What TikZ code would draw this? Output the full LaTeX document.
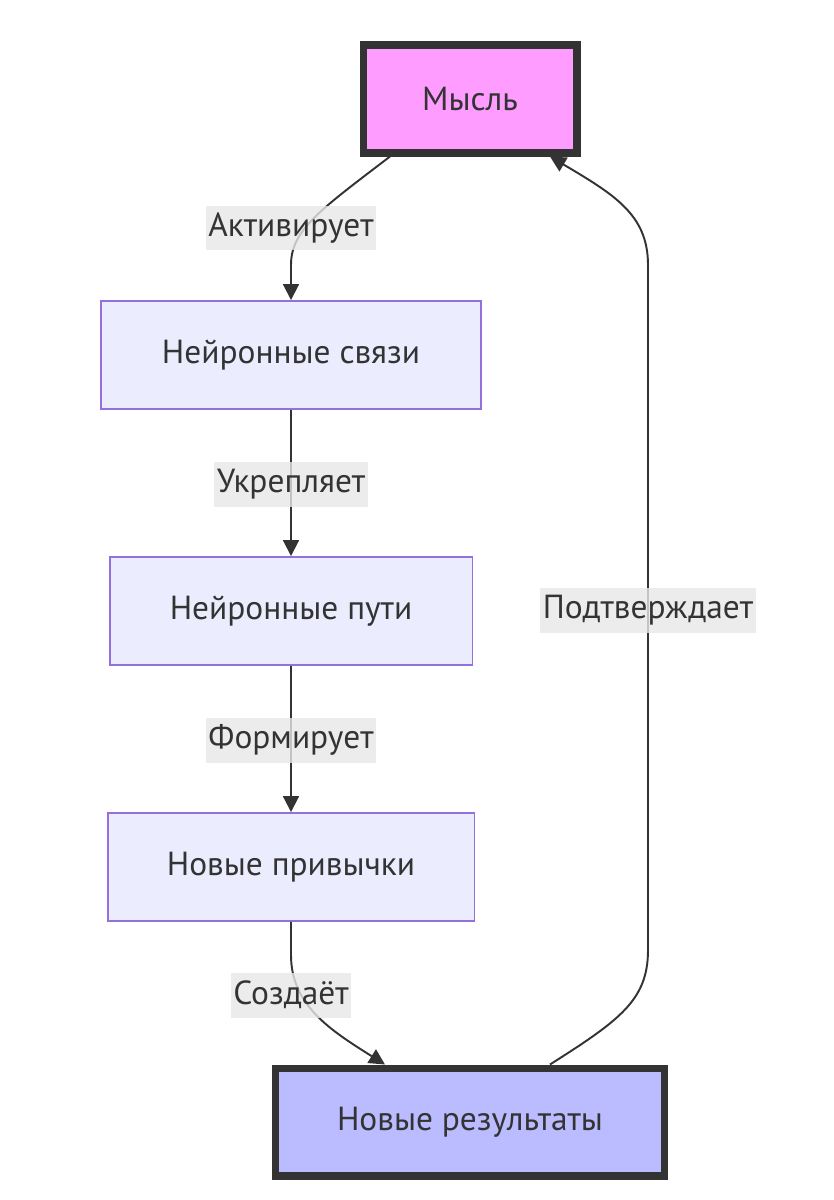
\documentclass[tikz,border=0pt]{standalone}
\usepackage{fontspec}
\setmainfont{PT Sans}
\usepackage{tikz}
\usetikzlibrary{arrows.meta}

\definecolor{nodefill}{HTML}{ECECFF}
\definecolor{nodeline}{HTML}{9370DB}
\definecolor{pinkfill}{HTML}{FF9CFF}
\definecolor{bluefill}{HTML}{BBBBFF}
\definecolor{darkline}{HTML}{333333}
\definecolor{labelfill}{HTML}{E8E8E8}

\tikzset{
  stepbox/.style={draw=nodeline, line width=1.1pt, fill=nodefill, text=darkline,
    minimum height=2.16cm, font=\fontsize{19}{22}\selectfont},
  keybox/.style={draw=darkline, line width=4pt, minimum height=2.16cm,
    text=darkline, font=\fontsize{19}{22}\selectfont},
  edgelabel/.style={fill=labelfill, fill opacity=0.8, text opacity=1, text=darkline,
    inner xsep=1.5pt, minimum height=0.9cm, font=\fontsize{19}{22}\selectfont},
  flow/.style={draw=darkline, line width=1.1pt, -{Triangle[length=9pt,width=9pt]}},
}

\begin{document}
\begin{tikzpicture}[x=0.02cm, y=-0.02cm]

\useasboundingbox[fill=white] (0,0) rectangle (833,1200);

% boxes
\node[keybox, fill=pinkfill, minimum width=4.28cm] (mysl) at (470,99) {Мысль};
\node[stepbox, minimum width=7.6cm] (svyazi) at (291,355) {Нейронные связи};
\node[stepbox, minimum width=7.26cm] (puti) at (291,611) {Нейронные пути};
\node[stepbox, minimum width=7.34cm] (privychki) at (291,867) {Новые привычки};
\node[keybox, fill=bluefill, minimum width=7.78cm] (rez) at (470,1122) {Новые результаты};

% connectors
\draw[flow] ([xshift=-1.6cm]mysl.south) .. controls (320,210) and (291,230) .. (291,265) -- (svyazi);
\draw[flow] (svyazi) -- (puti);
\draw[flow] (puti) -- (privychki);
\draw[flow] (privychki.south) -- (291,955) .. controls (291,1005) and (330,1030) .. ([xshift=-1.7cm]rez.north);
\draw[flow] ([xshift=1.6cm]rez.north) .. controls (620,1020) and (648,1000) .. (648,950)
  -- (648,265) .. controls (648,215) and (615,195) .. ([xshift=1.6cm]mysl.south);

% labels
\node[edgelabel] (l1) at (291,228) {Активирует};
\node[edgelabel] (l2) at (291,484) {Укрепляет};
\node[edgelabel] (l3) at (291,740) {Формирует};
\node[edgelabel] (l4) at (291,995) {Создаёт};
\node[edgelabel] (l5) at (648,610) {Подтверждает};

\end{tikzpicture}
\end{document}
